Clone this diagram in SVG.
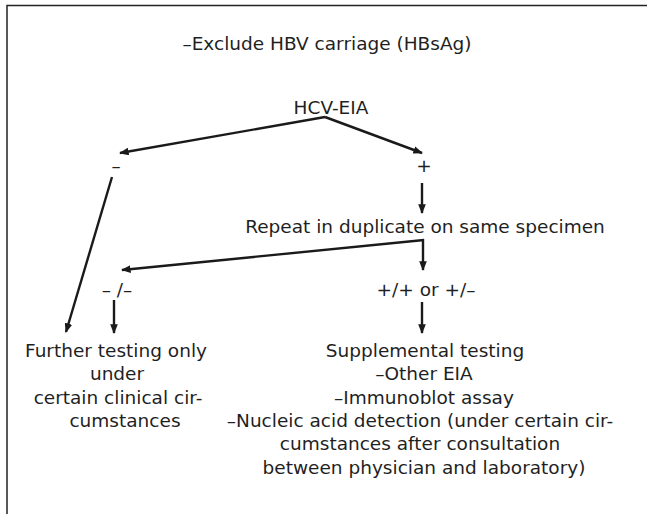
<svg xmlns="http://www.w3.org/2000/svg" width="647" height="514" viewBox="0 0 647 514">
<defs>
<marker id="ah" viewBox="0 0 10 8" refX="9" refY="4" markerWidth="4" markerHeight="3.2" orient="auto" markerUnits="strokeWidth">
<path d="M0,0 L10,4 L0,8 Z" fill="#1a1a1a"/>
</marker>
<style>
text{font-family:"DejaVu Sans","Liberation Sans",sans-serif;font-size:18.5px;fill:#1f1f1f;text-anchor:middle}
.c{fill:none;stroke:#1a1a1a;stroke-width:2.4;marker-end:url(#ah)}
.frame{fill:none;stroke:#222;stroke-width:1.5}
</style>
</defs>
<rect width="647" height="514" fill="#fff"/>
<path class="frame" d="M7,514 V5.5 H647"/>
<g id="connectors">
<path class="c" d="M325,117 L120,153"/>
<path class="c" d="M325,117 L422,153"/>
<path class="c" d="M112,177 L66,332"/>
<path class="c" d="M422,183 L422,213"/>
<path class="c" d="M424,240 L122,270"/>
<path class="c" d="M423,239 L423,270"/>
<path class="c" d="M114,300 L114,333"/>
<path class="c" d="M422,302 L422,333"/>
</g>
<g id="exclude"><text x="327" y="50">–Exclude HBV carriage (HBsAg)</text></g>
<g id="hcv-eia"><text x="331" y="114">HCV-EIA</text></g>
<g id="neg"><text x="116" y="172">–</text></g>
<g id="pos"><text x="424" y="172">+</text></g>
<g id="repeat"><text x="425" y="233">Repeat in duplicate on same specimen</text></g>
<g id="negneg"><text x="117" y="296">– /–</text></g>
<g id="pospos"><text x="426" y="296">+/+ or +/–</text></g>
<g id="further">
<text x="116" y="357">Further testing only</text>
<text x="117" y="380">under</text>
<text x="118" y="404">certain clinical cir-</text>
<text x="125" y="427">cumstances</text>
</g>
<g id="supplemental">
<text x="425" y="357">Supplemental testing</text>
<text x="424" y="380">–Other EIA</text>
<text x="424" y="404">–Immunoblot assay</text>
<text x="420" y="427">–Nucleic acid detection (under certain cir-</text>
<text x="420" y="450">cumstances after consultation</text>
<text x="424" y="474">between physician and laboratory)</text>
</g>
</svg>
